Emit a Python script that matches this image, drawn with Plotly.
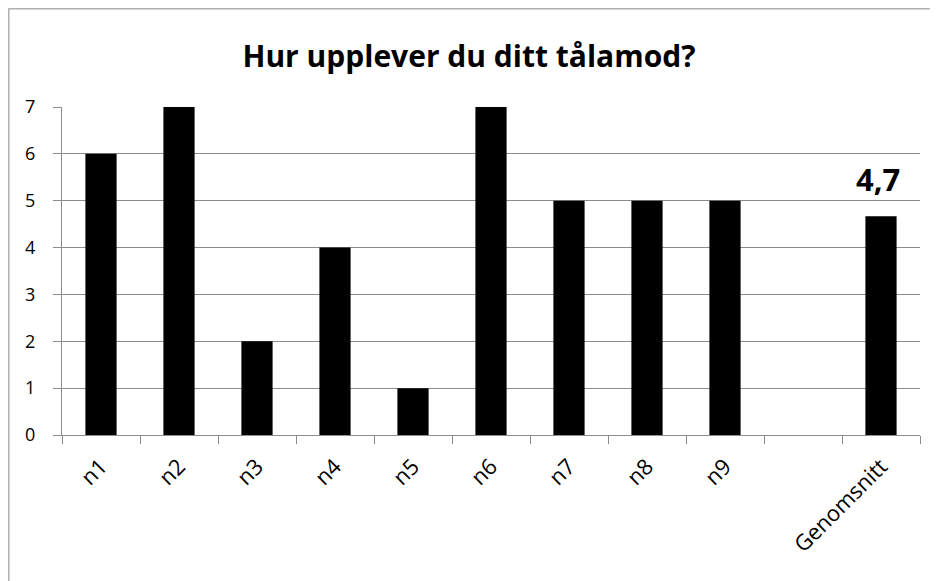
import plotly.graph_objects as go

categories = ["n1", "n2", "n3", "n4", "n5", "n6", "n7", "n8", "n9", " ", "Genomsnitt"]
values = [6, 7, 2, 4, 1, 7, 5, 5, 5, None, 4.67]
y_ticks = [0, 1, 2, 3, 4, 5, 6, 7]
avg_category = "Genomsnitt"

# page body has an 8px margin, so the figure is offset by 8px
W, H = 930, 573
L, R, T, B = 54, 18, 99, 146

fig = go.Figure()
fig.add_trace(go.Bar(
    x=categories, y=values,
    marker=dict(color="black", line=dict(width=0)),
    width=0.4,
))

avg_value = values[categories.index(avg_category)]
fig.add_annotation(
    x=avg_category, y=avg_value, xref="x", yref="y",
    text=f"<b>{avg_value:.1f}</b>".replace(".", ","),
    showarrow=False, yanchor="bottom", yshift=14, xshift=-3,
    font=dict(family="Open Sans", size=31, color="black"),
)

fig.update_layout(
    width=W, height=H,
    margin=dict(l=L, r=R, t=T, b=B, autoexpand=False),
    paper_bgcolor="white", plot_bgcolor="white",
    showlegend=False,
    title=dict(text="<b>Hur upplever du ditt tålamod?</b>", x=(469 - 8) / W, xanchor="center",
               y=1 - (56 - 8) / H, yanchor="middle",
               font=dict(family="Open Sans", size=30, color="black")),
    font=dict(family="Open Sans", size=18, color="black"),
)
fig.update_xaxes(
    type="category", tickson="boundaries", ticks="outside", ticklen=8,
    tickcolor="#8c8c8c", showline=True, linecolor="#8c8c8c", linewidth=1,
    showgrid=False, tickangle=-45, tickfont=dict(size=22), automargin=False,
    ticklabelstandoff=9,
)
fig.update_yaxes(
    range=[0, 7], tickvals=y_ticks, ticks="outside", ticklen=8, tickcolor="#8c8c8c",
    showline=True, linecolor="#8c8c8c", linewidth=1,
    showgrid=True, gridcolor="#8c8c8c", gridwidth=1, zeroline=False,
    tickfont=dict(size=18), ticklabelstandoff=14, automargin=False,
)
pw, ph = W - L - R, H - T - B
bx0 = (0.5 - L) / pw
bx1 = (W - L) / pw
by0 = (H - B - H) / ph
by1 = (H - B - 0.5) / ph
fig.add_shape(type="line", xref="paper", yref="paper",
              x0=bx0, x1=bx0, y0=by0, y1=by1,
              line=dict(color="#b0b0b0", width=2), layer="below")
fig.add_shape(type="line", xref="paper", yref="paper",
              x0=bx0, x1=bx1, y0=by1, y1=by1,
              line=dict(color="#b0b0b0", width=2), layer="below")
fig.write_html("out.html")
